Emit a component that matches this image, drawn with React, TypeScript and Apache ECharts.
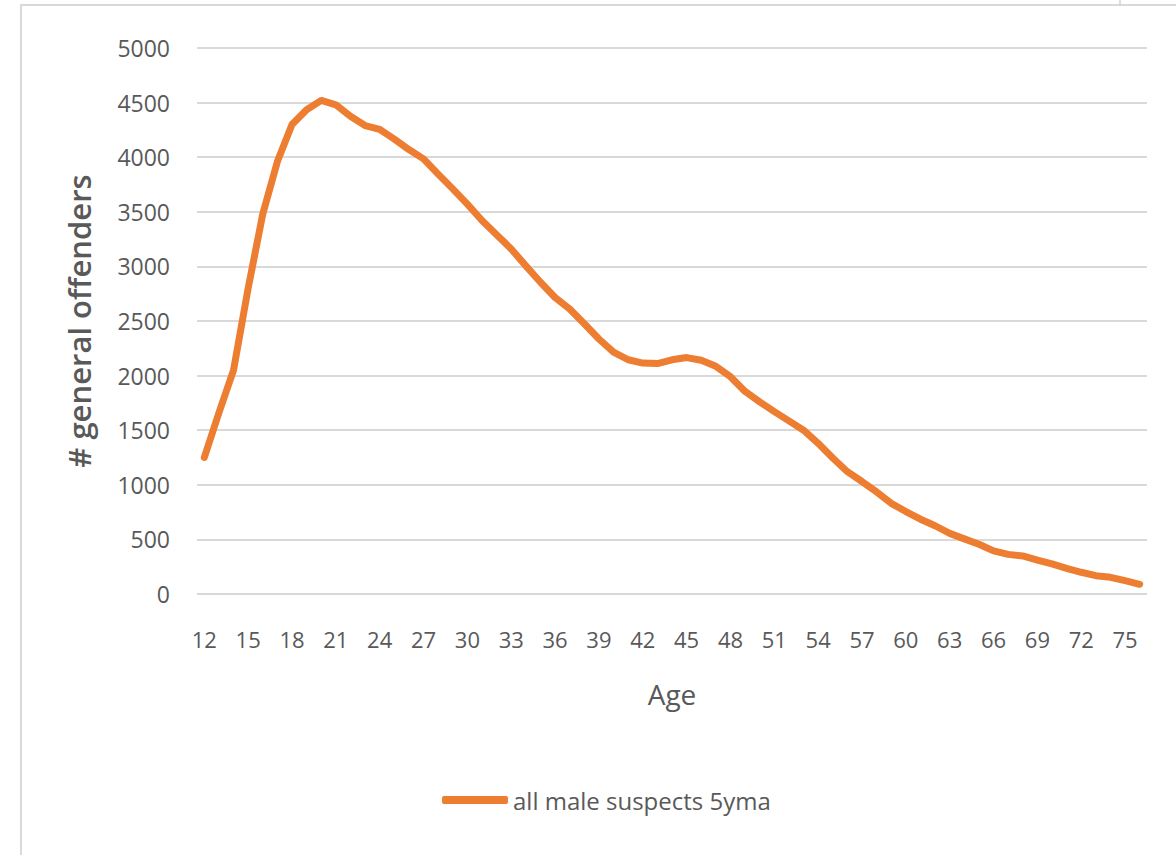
import React, { useEffect, useRef } from "react";
import * as echarts from "echarts";

const ages: string[] = [
  "12", "13", "14", "15", "16", "17", "18", "19", "20", "21", "22", "23", "24",
  "25", "26", "27", "28", "29", "30", "31", "32", "33", "34", "35", "36", "37",
  "38", "39", "40", "41", "42", "43", "44", "45", "46", "47", "48", "49", "50",
  "51", "52", "53", "54", "55", "56", "57", "58", "59", "60", "61", "62", "63",
  "64", "65", "66", "67", "68", "69", "70", "71", "72", "73", "74", "75", "76",
];

const maleSuspects5yma: number[] = [
  1250, 1660, 2050, 2800, 3480, 3960, 4300, 4435, 4520, 4480, 4375, 4290, 4255,
  4165, 4070, 3985, 3845, 3710, 3570, 3420, 3290, 3160, 3005, 2855, 2715, 2610,
  2475, 2335, 2215, 2145, 2115, 2110, 2145, 2165, 2140, 2085, 1990, 1855, 1760,
  1670, 1585, 1500, 1380, 1245, 1120, 1030, 935, 830, 755, 685, 625, 555,
  505, 455, 395, 363, 348, 311, 275, 235, 199, 168, 153, 122, 89,
];

const seriesName = "all male suspects 5yma";
const yAxisTitle = "# general offenders";
const xAxisTitle = "Age";

const FONT = "'Open Sans', 'Noto Sans', sans-serif";
const TEXT_COLOR = "#595959";
const GRID_COLOR = "#d9d9d9";
const LINE_COLOR = "#ED7D31";

export default function App() {
  const ref = useRef<HTMLDivElement>(null);

  useEffect(() => {
    if (!ref.current) return;
    const chart = echarts.init(ref.current, null, { renderer: "svg" });
    chart.setOption({
      animation: false,
      backgroundColor: "#ffffff",
      graphic: [
        {
          type: "rect",
          shape: { x: 21, y: 5, width: 1200, height: 900 },
          style: { fill: "none", stroke: GRID_COLOR, lineWidth: 2 },
          silent: true,
        },
        {
          type: "line",
          shape: { x1: 1120, y1: 0, x2: 1120, y2: 5 },
          style: { stroke: "#bfbfbf", lineWidth: 1 },
          silent: true,
        },
      ],
      grid: { left: 197, right: 29, top: 48, bottom: 261, containLabel: false },
      legend: {
        left: 437,
        top: 783,
        data: [{ name: seriesName, icon: "roundRect" }],
        itemWidth: 66,
        itemHeight: 8,
        textStyle: { fontFamily: FONT, fontSize: 24, color: TEXT_COLOR },
      },
      xAxis: {
        type: "category",
        data: ages,
        boundaryGap: true,
        name: xAxisTitle,
        nameLocation: "middle",
        nameGap: 86,
        nameTextStyle: { fontFamily: FONT, fontSize: 28, color: TEXT_COLOR },
        axisLine: { show: false },
        axisTick: { show: false },
        axisLabel: {
          interval: 2,
          margin: 34,
          fontFamily: FONT,
          fontSize: 22,
          color: TEXT_COLOR,
        },
        splitLine: { show: false },
      },
      yAxis: {
        type: "value",
        min: 0,
        max: 5000,
        interval: 500,
        name: yAxisTitle,
        nameLocation: "middle",
        nameGap: 103,
        nameRotate: 90,
        nameTextStyle: {
          fontFamily: FONT,
          fontSize: 31,
          fontWeight: 600,
          color: TEXT_COLOR,
        },
        axisLine: { show: false },
        axisTick: { show: false },
        axisLabel: {
          margin: 27,
          fontFamily: FONT,
          fontSize: 23,
          color: TEXT_COLOR,
          formatter: (v: number) => String(v),
        },
        splitLine: { show: true, lineStyle: { color: GRID_COLOR, width: 2 } },
      },
      series: [
        {
          name: seriesName,
          type: "line",
          data: maleSuspects5yma,
          showSymbol: false,
          symbol: "none",
          lineStyle: { color: LINE_COLOR, width: 7, cap: "round", join: "round" },
          itemStyle: { color: LINE_COLOR },
        },
      ],
    });
    return () => chart.dispose();
  }, []);

  return (
    <div
      ref={ref}
      style={{ position: "absolute", left: 0, top: 0, width: 1176, height: 855 }}
    />
  );
}
